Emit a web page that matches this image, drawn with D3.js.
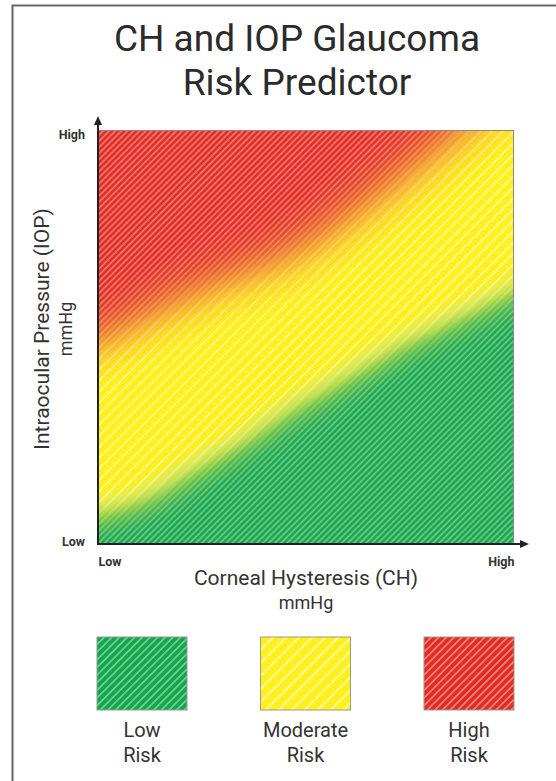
<!DOCTYPE html>
<html>
<head>
<meta charset="utf-8">
<script src="https://cdn.jsdelivr.net/npm/d3@7"></script>
<style>
    body { margin: 0; background: #fff; }
    text { font-family: Roboto, "Noto Sans", sans-serif; fill: #333; }
</style>
</head>
<body>
<div id="chart"></div>
<script>
// Chart data (axes run 0 = Low to 10 = High)

var titleLines = ["CH and IOP Glaucoma", "Risk Predictor"];
var axisTickValues = [0, 10];
var axisTickLabels = ["Low", "High"];

// middle of the red -> yellow transition
var highRiskCH = [0, 2.4, 4.8, 7.2, 8.7];
var highRiskIOP = [4.9, 6.1, 7.1, 8.8, 10];

// middle of the yellow -> green transition
var lowRiskCH = [0, 1.2, 2.4, 3.6, 4.8, 6.0, 7.2, 8.6, 10];
var lowRiskIOP = [0.6, 1.0, 1.7, 2.4, 3.2, 3.9, 4.6, 5.3, 6.0];

var riskLevels = ["Low", "Moderate", "High"];

// Styles

var colors = { Low: "#12a74c", Moderate: "#fff01c", High: "#e32b22" };

var svgWidth = 556;
var svgHeight = 781;

var plot = { left: 98, top: 130, right: 514, bottom: 543 };

var svg = d3.select("#chart")
    .append("svg")
    .attr("width", svgWidth)
    .attr("height", svgHeight);

var defs = svg.append("defs");

// diagonal hatch patterns
function hatch(id, gap, width, opacity) {
    var p = defs.append("pattern")
        .attr("id", id)
        .attr("patternUnits", "userSpaceOnUse")
        .attr("width", gap)
        .attr("height", gap)
        .attr("patternTransform", "rotate(45)");
    p.append("line")
        .attr("x1", gap / 2).attr("y1", -1)
        .attr("x2", gap / 2).attr("y2", gap + 1)
        .attr("stroke", "#fff")
        .attr("stroke-opacity", opacity)
        .attr("stroke-width", width);
}
hatch("hatchDense", 4.3, 1.6, 0.42);
hatch("hatchWide", 7.8, 1.8, 0.55);
hatch("legendDense", 5.4, 1.8, 0.4);
hatch("legendWide", 9.2, 2, 0.55);

defs.append("clipPath").attr("id", "plotClip")
    .append("rect")
    .attr("x", plot.left).attr("y", plot.top)
    .attr("width", plot.right - plot.left)
    .attr("height", plot.bottom - plot.top);

defs.append("filter").attr("id", "blurHigh")
    .attr("x", "-50%").attr("y", "-50%").attr("width", "200%").attr("height", "200%")
    .append("feGaussianBlur").attr("stdDeviation", 21);

defs.append("filter").attr("id", "blurLow")
    .attr("x", "-50%").attr("y", "-50%").attr("width", "200%").attr("height", "200%")
    .append("feGaussianBlur").attr("stdDeviation", 13);

defs.append("filter").attr("id", "blurGlow")
    .attr("x", "-50%").attr("y", "-50%").attr("width", "200%").attr("height", "200%")
    .append("feGaussianBlur").attr("stdDeviation", 6);

defs.append("marker").attr("id", "arrow")
    .attr("viewBox", "0 -5 10 10")
    .attr("refX", 2).attr("refY", 0)
    .attr("markerWidth", 5).attr("markerHeight", 5)
    .attr("orient", "auto")
    .append("path")
    .attr("d", "M0,-4L9,0L0,4Z")
    .attr("fill", "#222");

// Scales

var xScale = d3.scaleLinear().domain([0, 10]).range([plot.left, plot.right]);
var yScale = d3.scaleLinear().domain([0, 10]).range([plot.bottom, plot.top]);

var line = d3.line().curve(d3.curveMonotoneX);
var pad = 90;

// red region: everything above the high risk boundary
var hp = highRiskCH.map((c, i) => [xScale(c), yScale(highRiskIOP[i])]);
var hl = hp[hp.length - 1], hb = hp[hp.length - 2];
var hx = hl[0] + (hl[0] - hb[0]) * 1.5, hy = hl[1] + (hl[1] - hb[1]) * 1.5;
var highPath = "M" + (plot.left - pad) + "," + (hp[0][1] + 0.3 * pad) +
    line(hp).replace(/^M/, "L") +
    "L" + hx + "," + hy +
    "L" + hx + "," + (plot.top - pad) +
    "L" + (plot.left - pad) + "," + (plot.top - pad) + "Z";

// green region: everything below the low risk boundary
var lp = lowRiskCH.map((c, i) => [xScale(c), yScale(lowRiskIOP[i])]);
var ll = lp[lp.length - 1];
var lowPath = "M" + (plot.left - pad) + "," + (lp[0][1] + 0.4 * pad) +
    line(lp).replace(/^M/, "L") +
    "L" + (plot.right + pad) + "," + (ll[1] - 0.5 * pad) +
    "L" + (plot.right + pad) + "," + (plot.bottom + pad) +
    "L" + (plot.left - pad) + "," + (plot.bottom + pad) + "Z";

var mask = defs.append("mask").attr("id", "denseMask")
    .attr("maskUnits", "userSpaceOnUse")
    .attr("x", 0).attr("y", 0).attr("width", svgWidth).attr("height", svgHeight);
mask.append("path").attr("d", highPath).attr("fill", "#fff").attr("filter", "url(#blurHigh)");
mask.append("path").attr("d", lowPath).attr("fill", "#fff").attr("filter", "url(#blurLow)");

// Frame

svg.append("path")
    .attr("d", "M12.5,781V5.5H556")
    .attr("fill", "none")
    .attr("stroke", "#666")
    .attr("stroke-width", 2);

// Title

svg.append("g").selectAll("text")
    .data(titleLines)
    .enter()
    .append("text")
    .attr("x", 297)
    .attr("y", (d, i) => 51 + i * 44)
    .attr("text-anchor", "middle")
    .style("font-size", "37px")
    .style("fill", "#2b2b2b")
    .text(d => d);

// Risk field

var field = svg.append("g").attr("clip-path", "url(#plotClip)");

field.append("rect")
    .attr("x", plot.left).attr("y", plot.top)
    .attr("width", plot.right - plot.left)
    .attr("height", plot.bottom - plot.top)
    .attr("fill", colors.Moderate);

field.append("rect")
    .attr("x", plot.left).attr("y", plot.top)
    .attr("width", plot.right - plot.left)
    .attr("height", plot.bottom - plot.top)
    .attr("fill", "url(#hatchWide)");

field.append("path")
    .attr("d", highPath)
    .attr("fill", colors.High)
    .attr("filter", "url(#blurHigh)");

field.append("path")
    .attr("d", lowPath)
    .attr("fill", colors.Low)
    .attr("filter", "url(#blurLow)");

// pale glow on the yellow side of the low risk boundary
field.append("path")
    .attr("d", line(lp.map(p => [p[0], p[1] - 14])))
    .attr("fill", "none")
    .attr("stroke", "#fffbb0")
    .attr("stroke-width", 8)
    .attr("stroke-opacity", 0.45)
    .attr("filter", "url(#blurGlow)");

field.append("rect")
    .attr("x", plot.left).attr("y", plot.top)
    .attr("width", plot.right - plot.left)
    .attr("height", plot.bottom - plot.top)
    .attr("fill", "url(#hatchDense)")
    .attr("mask", "url(#denseMask)");

svg.append("rect")
    .attr("x", plot.left).attr("y", plot.top + 0.5)
    .attr("width", plot.right - plot.left - 0.5)
    .attr("height", plot.bottom - plot.top)
    .attr("fill", "none")
    .attr("stroke", "#8a8a8a")
    .attr("stroke-width", 1);

// Axes

var leftAxis = d3.axisLeft(yScale)
    .tickValues(axisTickValues)
    .tickFormat((d, i) => axisTickLabels[i])
    .tickSize(0)
    .tickPadding(13);

var bottomAxis = d3.axisBottom(xScale)
    .tickValues(axisTickValues)
    .tickFormat((d, i) => axisTickLabels[i])
    .tickSize(0)
    .tickPadding(14);

var yAxis = svg.append("g")
    .attr("transform", `translate(${plot.left}, 0)`)
    .call(leftAxis);

var xAxis = svg.append("g")
    .attr("transform", `translate(0, ${plot.bottom})`)
    .call(bottomAxis);

[yAxis, xAxis].forEach(function (ax) {
    ax.select(".domain").remove();
    ax.selectAll("text")
        .attr("font-family", null)
        .style("font-size", "12.5px")
        .style("font-weight", "bold")
        .style("fill", "#333");
});
yAxis.selectAll(".tick text").filter(d => d === 10).attr("dy", "0.7em");
yAxis.selectAll(".tick text").filter(d => d === 0).attr("dy", "0.2em");
xAxis.selectAll(".tick text").filter(d => d === 0).attr("text-anchor", "start");
xAxis.selectAll(".tick text").filter(d => d === 10).attr("text-anchor", "end");

svg.append("line")
    .attr("x1", plot.left).attr("y1", plot.bottom + 2)
    .attr("x2", plot.left).attr("y2", plot.top - 7)
    .attr("stroke", "#222").attr("stroke-width", 2)
    .attr("marker-end", "url(#arrow)");

svg.append("line")
    .attr("x1", plot.left - 1).attr("y1", plot.bottom + 1)
    .attr("x2", plot.right + 8).attr("y2", plot.bottom + 1)
    .attr("stroke", "#222").attr("stroke-width", 2)
    .attr("marker-end", "url(#arrow)");

// Axis titles

svg.append("text")
    .attr("x", 306).attr("y", 585)
    .attr("text-anchor", "middle")
    .style("font-size", "21px")
    .text("Corneal Hysteresis (CH)");

svg.append("text")
    .attr("x", 306).attr("y", 609)
    .attr("text-anchor", "middle")
    .style("font-size", "18px")
    .text("mmHg");

var yTitle = svg.append("g")
    .attr("transform", "translate(42, 329) rotate(-90)");

yTitle.append("text")
    .attr("text-anchor", "middle")
    .attr("dy", "0.35em")
    .style("font-size", "21px")
    .text("Intraocular Pressure (IOP)");

yTitle.append("text")
    .attr("y", 24)
    .attr("text-anchor", "middle")
    .attr("dy", "0.35em")
    .style("font-size", "18px")
    .text("mmHg");

// Legend

var legendX = d3.scalePoint()
    .domain(riskLevels)
    .range([142, 469]);

var legend = svg.append("g").selectAll("g")
    .data(riskLevels)
    .enter()
    .append("g")
    .attr("transform", d => `translate(${legendX(d)}, 0)`);

legend.append("rect")
    .attr("x", -45).attr("y", 637)
    .attr("width", 90).attr("height", 73)
    .attr("fill", d => colors[d]);

legend.append("rect")
    .attr("x", -45).attr("y", 637)
    .attr("width", 90).attr("height", 73)
    .attr("fill", d => d === "Moderate" ? "url(#legendWide)" : "url(#legendDense)")
    .attr("stroke", "#9a9a8a")
    .attr("stroke-width", 1);

legend.append("text")
    .attr("y", 737)
    .attr("text-anchor", "middle")
    .style("font-size", "20px")
    .text(d => d);

legend.append("text")
    .attr("y", 762)
    .attr("text-anchor", "middle")
    .style("font-size", "20px")
    .text("Risk");
</script>
</body>
</html>
